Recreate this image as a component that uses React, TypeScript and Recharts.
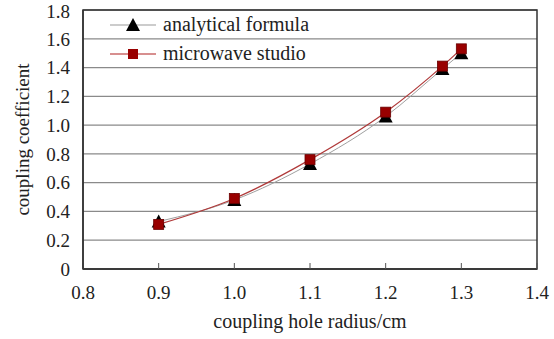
import React from "react";
import {
  LineChart,
  Line,
  XAxis,
  YAxis,
  CartesianGrid,
  ReferenceArea,
} from "recharts";

// hole radius (cm)
const radius = [0.9, 1.0, 1.1, 1.2, 1.275, 1.3];
const analytical = [0.33, 0.48, 0.73, 1.06, 1.39, 1.5];
const microwave = [0.31, 0.49, 0.76, 1.09, 1.41, 1.53];

const xTicks = [0.8, 0.9, 1.0, 1.1, 1.2, 1.3, 1.4];
const yTicks = [0, 0.2, 0.4, 0.6, 0.8, 1.0, 1.2, 1.4, 1.6, 1.8];

const data = radius.map((r, i) => ({
  r,
  analytical: analytical[i],
  microwave: microwave[i],
}));

const FONT = "'Liberation Serif', 'Times New Roman', serif";

const Triangle = (props: any) => {
  const { cx, cy } = props;
  if (cx == null || cy == null) return null;
  return (
    <path
      d={`M${cx},${cy - 7} L${cx + 7},${cy + 6} L${cx - 7},${cy + 6} Z`}
      fill="#000"
    />
  );
};

const Square = (props: any) => {
  const { cx, cy } = props;
  if (cx == null || cy == null) return null;
  return (
    <rect x={cx - 5} y={cy - 5} width={10} height={10} fill="#990000" stroke="#6a0000" strokeWidth={0.8} />
  );
};

const LegendBox = () => (
  <div
    style={{
      position: "absolute",
      left: 110,
      top: 10,
      fontFamily: FONT,
      fontSize: 20,
      color: "#222",
      lineHeight: "29px",
    }}
  >
    <div style={{ display: "flex", alignItems: "center" }}>
      <svg width={48} height={16}>
        <line x1={0} y1={8} x2={46} y2={8} stroke="#999" strokeWidth={1} />
        <path d="M23,1 L30,14 L16,14 Z" fill="#000" />
      </svg>
      <span style={{ marginLeft: 5 }}>analytical formula</span>
    </div>
    <div style={{ display: "flex", alignItems: "center" }}>
      <svg width={48} height={16}>
        <line x1={0} y1={8} x2={46} y2={8} stroke="#b02020" strokeWidth={1.2} />
        <rect x={18} y={3} width={10} height={10} fill="#990000" />
      </svg>
      <span style={{ marginLeft: 5 }}>microwave studio</span>
    </div>
  </div>
);

export default function App() {
  return (
    <div style={{ position: "absolute", left: 0, top: 0, width: 554, height: 339, background: "#fff" }}>
      <LineChart
        width={554}
        height={339}
        data={data}
        margin={{ top: 10, right: 17, left: 0, bottom: 0 }}
      >
        <CartesianGrid horizontal vertical={false} stroke="#8a8a8a" strokeWidth={1.3} />
        <XAxis
          type="number"
          dataKey="r"
          domain={[0.8, 1.4]}
          ticks={xTicks}
          tickFormatter={(v: number) => v.toFixed(1)}
          height={70}
          axisLine={{ stroke: "#333", strokeWidth: 1.5 }}
          tickLine={{ stroke: "#555" }}
          tickSize={-6}
          tickMargin={23}
          tick={{ fill: "#222", fontSize: 19, fontFamily: FONT }}
          label={{
            value: "coupling hole radius/cm",
            position: "insideBottom",
            offset: 11,
            style: { fill: "#222", fontSize: 20, fontFamily: FONT },
          }}
        />
        <YAxis
          type="number"
          domain={[0, 1.8]}
          ticks={yTicks}
          tickFormatter={(v: number) => (v === 0 ? "0" : v.toFixed(1))}
          width={83}
          axisLine={{ stroke: "#333", strokeWidth: 1.5 }}
          tickLine={false}
          tickSize={0}
          tickMargin={13}
          tick={{ fill: "#222", fontSize: 19, fontFamily: FONT }}
          label={{
            value: "coupling coefficient",
            angle: -90,
            position: "insideLeft",
            offset: 22,
            style: { fill: "#222", fontSize: 19, fontFamily: FONT, textAnchor: "middle" },
          }}
        />
        <ReferenceArea x1={0.8} x2={1.4} y1={0} y2={1.8} fill="none" stroke="#333" strokeWidth={1.5} />
        <Line
          type="monotone"
          dataKey="analytical"
          stroke="#a0a0a0"
          strokeWidth={1}
          dot={<Triangle />}
          activeDot={false}
          isAnimationActive={false}
        />
        <Line
          type="monotone"
          dataKey="microwave"
          stroke="#b03a3a"
          strokeWidth={1.2}
          dot={<Square />}
          activeDot={false}
          isAnimationActive={false}
        />
      </LineChart>
      <LegendBox />
    </div>
  );
}
